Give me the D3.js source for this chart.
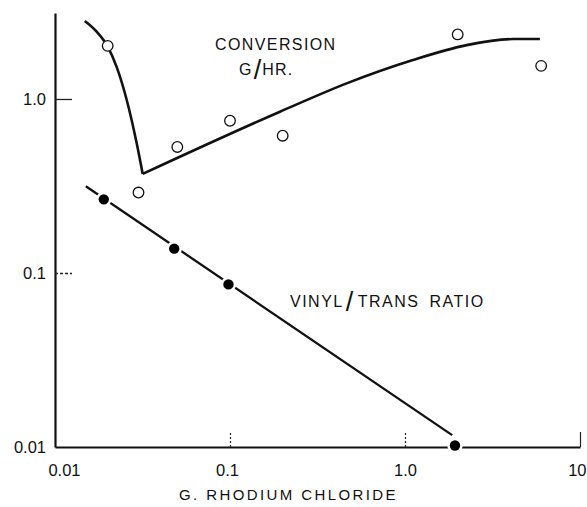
<!DOCTYPE html>
<html>
<head>
<meta charset="utf-8">
<script src="https://cdn.jsdelivr.net/npm/d3@7"></script>
<style>
  html, body { margin: 0; padding: 0; background: #fff; }
  svg { display: block; }
  text { font-family: "Liberation Sans", Arial, sans-serif; fill: #111; }
</style>
</head>
<body>
<svg id="chart" width="587" height="507"></svg>
<script>
// ---- data ----
const xTicks = [0.01, 0.1, 1, 10];
const xTickLabels = ["0.01", "0.1", "1.0", "10"];
const yTicks = [0.01, 0.1, 1];
const yTickLabels = ["0.01", "0.1", "1.0"];

// conversion, g/hr (open circles)
const convX = [0.02, 0.03, 0.05, 0.1, 0.2, 2.0, 6.0];
const convY = [2.02, 0.29, 0.53, 0.75, 0.615, 2.35, 1.55];
// conversion fitted curve: steep falling branch, then rising branch
const convFallX = [0.0148, 0.0173, 0.0199, 0.0225, 0.0257, 0.0293, 0.0317];
const convFallY = [2.81, 2.44, 2.02, 1.53, 0.987, 0.556, 0.371];
const convRiseX = [0.0317, 0.193, 0.464, 1.11, 2.25, 4.16, 5.9];
const convRiseY = [0.371, 0.845, 1.23, 1.675, 2.04, 2.21, 2.21];

// vinyl / trans ratio (filled circles)
const vinylX = [0.019, 0.048, 0.098, 1.93];
const vinylY = [0.265, 0.138, 0.086, 0.0102];
const vinylLineX = [0.015, 1.86];
const vinylLineY = [0.315, 0.0117];

const xTitle = "G. RHODIUM CHLORIDE";

// ---- scales ----
const svg = d3.select("#chart");
const x = d3.scaleLog().domain([0.01, 10]).range([55, 580]);
const y = d3.scaleLog().domain([0.01, 3.12]).range([447, 13]);

const zip = (a, b) => a.map((v, i) => [v, b[i]]);

// ---- axes ----
const yAxis = d3.axisLeft(y).tickValues(yTicks)
  .tickFormat((d, i) => yTickLabels[i]).tickSizeInner(-17).tickSizeOuter(0).tickPadding(9);
const gy = svg.append("g").attr("transform", `translate(${x(0.01)},0)`).call(yAxis);
gy.select(".domain").attr("stroke", "#111").attr("stroke-width", 2.2);
gy.selectAll(".tick line").attr("stroke", "#222").attr("stroke-width", 1.3)
  .attr("stroke-dasharray", d => d === 0.1 ? "3,2" : null)
  .attr("opacity", d => d === 0.01 ? 0 : 1);
gy.selectAll(".tick text").attr("font-size", 16.5).attr("font-family", "Liberation Sans")
  .attr("fill", "#111").attr("dy", "0.36em");

const xAxis = d3.axisBottom(x).tickValues(xTicks)
  .tickFormat((d, i) => xTickLabels[i]).tickSizeInner(-15).tickSizeOuter(0).tickPadding(17);
const gx = svg.append("g").attr("transform", `translate(0,${y(0.01)})`).call(xAxis);
gx.select(".domain").attr("stroke", "#111").attr("stroke-width", 2.2);
gx.selectAll(".tick line").attr("stroke", "#222").attr("stroke-width", 1.2)
  .attr("stroke-dasharray", d => (d === 0.1 || d === 1) ? "2,2" : null)
  .attr("opacity", d => d === 0.01 ? 0 : 1);
gx.selectAll(".tick text").attr("font-size", 16.5).attr("font-family", "Liberation Sans")
  .attr("fill", "#111")
  .attr("text-anchor", d => d === 10 ? "end" : "middle")
  .attr("dx", d => d === 0.01 ? 9 : d === 0.1 ? -3 : d === 10 ? 6 : 0);

svg.append("text").attr("x", (x(0.01) + x(10)) / 2 - 29).attr("y", 500)
  .attr("text-anchor", "middle").attr("font-size", 15).attr("letter-spacing", 2.4)
  .text(xTitle);

// ---- conversion curve ----
const line = d3.line().x(d => x(d[0])).y(d => y(d[1]));
svg.append("path").datum(zip(convFallX, convFallY))
  .attr("d", line.curve(d3.curveMonotoneX)).attr("fill", "none")
  .attr("stroke", "#111").attr("stroke-width", 2.6);
svg.append("path").datum(zip(convRiseX, convRiseY))
  .attr("d", line.curve(d3.curveMonotoneX)).attr("fill", "none")
  .attr("stroke", "#111").attr("stroke-width", 2.6).attr("stroke-linejoin", "round");

svg.append("g").selectAll("circle").data(zip(convX, convY)).join("circle")
  .attr("cx", d => x(d[0])).attr("cy", d => y(d[1])).attr("r", 5.3)
  .attr("fill", "#fff").attr("stroke", "#111").attr("stroke-width", 1.3);

// ---- vinyl / trans ratio ----
svg.append("path").datum(zip(vinylLineX, vinylLineY))
  .attr("d", line.curve(d3.curveLinear)).attr("fill", "none")
  .attr("stroke", "#111").attr("stroke-width", 2.3);
svg.append("g").selectAll("circle").data(zip(vinylX, vinylY)).join("circle")
  .attr("cx", d => x(d[0])).attr("cy", d => y(d[1])).attr("r", 5.2)
  .attr("fill", "#000").attr("stroke", "#fff").attr("stroke-width", 5)
  .attr("paint-order", "stroke");

// ---- annotations ----
const conv = svg.append("text").attr("font-size", 16).attr("letter-spacing", 1.4);
conv.append("tspan").attr("x", 215).attr("y", 50).text("CONVERSION");
const gl = svg.append("text").attr("x", 239).attr("y", 75).attr("font-size", 16).attr("letter-spacing", 1.2);
gl.append("tspan").text("G");
gl.append("tspan").attr("font-size", 27).attr("font-weight", 300).attr("dy", 4).attr("dx", 1).text("/");
gl.append("tspan").attr("dy", -4).attr("dx", 0).text("HR.");

const vt = svg.append("text").attr("x", 290).attr("y", 306.5).attr("font-size", 16).attr("letter-spacing", 1.5);
vt.append("tspan").text("VINYL");
vt.append("tspan").attr("font-size", 27).attr("font-weight", 300).attr("dy", 4).attr("dx", 2).text("/");
vt.append("tspan").attr("dy", -4).attr("dx", 3).text("TRANS");
vt.append("tspan").attr("dx", 10).text("RATIO");
</script>
</body>
</html>
